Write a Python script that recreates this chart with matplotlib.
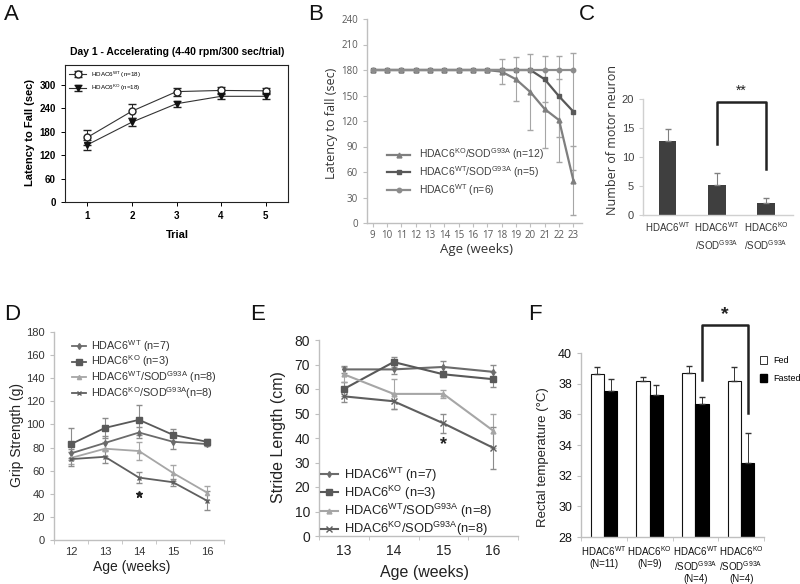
import matplotlib
matplotlib.use('Agg')
import matplotlib.pyplot as plt
from matplotlib.patches import Patch

# ---- data ----
# A: rotarod, day 1
trials = [1, 2, 3, 4, 5]
a_wt = [165, 232, 282, 285, 284]
a_wt_err = [20, 18, 10, 8, 8]
a_ko = [146, 204, 251, 270, 270]
a_ko_err = [12, 10, 8, 8, 8]

# B: latency to fall vs age
b_weeks = [9, 10, 11, 12, 13, 14, 15, 16, 17, 18, 19, 20, 21, 22, 23]
b_kosod = [180, 180, 180, 180, 180, 180, 180, 180, 180, 178, 169, 154, 134, 121, 50]
b_kosod_err = [0, 0, 0, 0, 0, 0, 0, 0, 0, 15, 26, 45, 46, 49, 41]
b_wtsod = [180, 180, 180, 180, 180, 180, 180, 180, 180, 180, 180, 180, 169, 149, 131]
b_wtsod_err = [0, 0, 0, 0, 0, 0, 0, 0, 0, 0, 0, 0, 27, 48, 69]
b_wt = [180, 180, 180, 180, 180, 180, 180, 180, 180, 180, 180, 180, 180, 180, 180]
b_wt_err = [0, 0, 0, 0, 0, 0, 0, 0, 0, 0, 0, 0, 0, 0, 0]

# C: motor neuron counts
c_labels = ['$\\mathrm{HDAC6}^{\\mathrm{WT}}$',
            '$\\mathrm{HDAC6}^{\\mathrm{WT}}$\n$\\mathrm{/SOD}^{\\mathrm{G93A}}$',
            '$\\mathrm{HDAC6}^{\\mathrm{KO}}$\n$\\mathrm{/SOD}^{\\mathrm{G93A}}$']
c_vals = [12.7, 5.1, 2.1]
c_err = [2.1, 2.1, 0.9]

# D: grip strength
d_weeks = [12, 13, 14, 15, 16]
d_wt = [75, 84, 93, 85, 83]
d_wt_err = [4, 6, 5, 6, 2]
d_ko = [83, 97, 104, 91, 85]
d_ko_err = [14, 9, 13, 5, 2]
d_wtsod = [71, 79, 77, 58, 41]
d_wtsod_err = [5, 6, 8, 7, 6]
d_kosod = [70, 72, 54, 50, 34]
d_kosod_err = [6, 5, 4.5, 3, 8]

# E: stride length
e_weeks = [13, 14, 15, 16]
e_wt = [68, 68, 69, 67]
e_wt_err = [1.5, 2, 2.5, 3]
e_ko = [60, 71, 66, 64]
e_ko_err = [3, 2, 1, 3]
e_wtsod = [66, 58, 58, 43]
e_wtsod_err = [3, 6, 1.5, 7]
e_kosod = [57, 55, 46, 36]
e_kosod_err = [2.5, 3, 4, 8.5]

# F: rectal temperature
f_labels = ['$\\mathrm{HDAC6}^{\\mathrm{WT}}$\n(N=11)',
            '$\\mathrm{HDAC6}^{\\mathrm{KO}}$\n(N=9)',
            '$\\mathrm{HDAC6}^{\\mathrm{WT}}$\n$\\mathrm{/SOD}^{\\mathrm{G93A}}$\n(N=4)',
            '$\\mathrm{HDAC6}^{\\mathrm{KO}}$\n$\\mathrm{/SOD}^{\\mathrm{G93A}}$\n(N=4)']
f_fed = [38.63, 38.2, 38.72, 38.15]
f_fed_err = [0.45, 0.23, 0.4, 0.93]
f_fasted = [37.5, 37.25, 36.7, 32.83]
f_fasted_err = [0.8, 0.65, 0.4, 1.95]

plt.rcParams['font.family'] = ['Liberation Sans', 'DejaVu Sans']
plt.rcParams['mathtext.fontset'] = 'custom'
plt.rcParams['mathtext.rm'] = 'Liberation Sans'
plt.rcParams['mathtext.it'] = 'Liberation Sans:italic'
plt.rcParams['mathtext.bf'] = 'Liberation Sans:bold'

W, H = 800, 584
fig = plt.figure(figsize=(8, 5.84), dpi=100)


def px_axes(l, t, r, b):
    return fig.add_axes([l / W, 1 - b / H, (r - l) / W, (b - t) / H])


def px_text(x, y, s, **kw):
    fig.text(x / W, 1 - y / H, s, **kw)


def sup(a, b=None):
    s = 'HDAC6$^{\\mathrm{%s}}$' % a
    if b:
        s += '/SOD$^{\\mathrm{%s}}$' % b
    return s


def excel_axes(ax, col='#bfbfbf'):
    for s in ['top', 'right']:
        ax.spines[s].set_visible(False)
    for s in ['left', 'bottom']:
        ax.spines[s].set_color(col)
        ax.spines[s].set_linewidth(1.0)
    ax.tick_params(which='both', color=col, direction='out', length=3)


def series(ax, x, y, err, color, marker, ms, lw, ecolor, label, cap=2):
    ax.plot(x, y, color=color, marker=marker, ms=ms, lw=lw, mec=color, mfc=color, label=label, zorder=3)
    xs = [xi for xi, e in zip(x, err) if e > 0]
    ys = [yi for yi, e in zip(y, err) if e > 0]
    es = [e for e in err if e > 0]
    if xs:
        ax.errorbar(xs, ys, yerr=es, fmt='none', ecolor=ecolor, elinewidth=0.8, capsize=cap, zorder=2)


# ---------------- A ----------------
axA = px_axes(65, 65, 288, 202)
axA.errorbar(trials, a_wt, yerr=a_wt_err, color='#333333', lw=0.8, marker='o', ms=5,
             mfc='white', mec='#222222', capsize=3, elinewidth=0.7, ecolor='#222222',
             label=sup('WT') + ' (n=18)', zorder=3)
axA.errorbar(trials, a_ko, yerr=a_ko_err, color='#333333', lw=0.8, marker='v', ms=5,
             mfc='#111111', mec='#111111', capsize=3, elinewidth=0.7, ecolor='#222222',
             label=sup('KO') + ' (n=18)', zorder=3)
axA.set_xlim(0.5, 5.5)
axA.set_ylim(0, 350)
axA.set_xticks(trials)
axA.set_yticks([0, 60, 120, 180, 240, 300])
for s in axA.spines.values():
    s.set_linewidth(0.8)
    s.set_color('#222222')
axA.tick_params(direction='out', length=3, width=0.7, labelsize=7)
for t in axA.get_xticklabels() + axA.get_yticklabels():
    t.set_fontweight('bold')
axA.legend(loc='upper left', bbox_to_anchor=(0.0, 1.0), fontsize=4.5, frameon=False,
           handlelength=2.6, borderaxespad=0.3, labelspacing=0.5)
px_text(177, 52, 'Day 1 - Accelerating (4-40 rpm/300 sec/trial)', ha='center', va='center',
        fontsize=7.5, fontweight='bold')
px_text(30, 133, 'Latency to Fall (sec)', rotation=90, ha='center', va='center',
        fontsize=8, fontweight='bold')
px_text(177, 235, 'Trial', ha='center', va='center', fontsize=8, fontweight='bold')

# ---------------- B ----------------
axB = px_axes(367, 19, 582, 223)
excel_axes(axB)
series(axB, b_weeks, b_kosod, b_kosod_err, '#7f7f7f', '^', 3.5, 1.6, '#a6a6a6',
       sup('KO', 'G93A') + ' (n=12)')
series(axB, b_weeks, b_wtsod, b_wtsod_err, '#595959', 's', 3.5, 1.6, '#a6a6a6',
       sup('WT', 'G93A') + ' (n=5)')
series(axB, b_weeks, b_wt, b_wt_err, '#8c8c8c', 'o', 3.2, 1.6, '#a6a6a6',
       sup('WT') + ' (n=6)')
axB.set_xlim(8.6, 23.6)
axB.set_ylim(0, 240)
axB.set_xticks(b_weeks)
axB.set_yticks(range(0, 241, 30))
axB.tick_params(labelsize=7, labelcolor='#595959')
axB.tick_params(axis='x', pad=2)
for t in axB.get_xticklabels() + axB.get_yticklabels():
    t.set_fontfamily('Open Sans')
hB, lB = axB.get_legend_handles_labels()
axB.legend(hB, lB, loc='upper left', bbox_to_anchor=(378 / W, 1 - 137 / H),
           bbox_transform=fig.transFigure, fontsize=7.5, frameon=False,
           handlelength=2.2, labelspacing=0.2, labelcolor='#404040')
px_text(331, 123, 'Latency to fall (sec)', rotation=90, ha='center', va='center',
        fontsize=9, family='Open Sans', color='#333333')
px_text(477, 249, 'Age (weeks)', ha='center', va='center', fontsize=9.5,
        family='Open Sans', color='#333333')

# ---------------- C ----------------
axC = px_axes(643, 99, 793, 215)
excel_axes(axC, '#d0d0d0')
xc = [0, 1, 2]
axC.bar(xc, c_vals, width=0.36, color='#3f3f3f', zorder=2)
axC.errorbar(xc, c_vals, yerr=[[0, 0, 0], c_err], fmt='none', ecolor='#808080',
             elinewidth=0.8, capsize=2)
axC.set_xlim(-0.5, 2.55)
axC.set_ylim(0, 20)
axC.set_yticks([0, 5, 10, 15, 20])
axC.set_xticks(xc)
axC.set_xticklabels(c_labels, fontsize=7, color='#333333', linespacing=1.3)
axC.tick_params(axis='x', length=0, pad=4)
axC.tick_params(axis='y', labelsize=8, labelcolor='#404040')
axC.plot([1, 1, 2, 2], [12.2, 19.4, 19.4, 8], color='#222222', lw=1.8, clip_on=False)
axC.text(1.5, 20.2, '**', ha='center', va='bottom', fontsize=10, color='#222222')
px_text(612, 140, 'Number of motor neuron', rotation=90, ha='center', va='center',
        fontsize=9, family='Open Sans', color='#333333')

# ---------------- D ----------------
axD = px_axes(54, 332, 224, 540)
excel_axes(axD)
series(axD, d_weeks, d_wt, d_wt_err, '#6b6b6b', 'd', 3, 1.3, '#8c8c8c', sup('WT') + ' (n=7)')
series(axD, d_weeks, d_ko, d_ko_err, '#595959', 's', 4, 1.3, '#8c8c8c', sup('KO') + ' (n=3)')
series(axD, d_weeks, d_wtsod, d_wtsod_err, '#a6a6a6', '^', 3, 1.3, '#a6a6a6',
       sup('WT', 'G93A') + ' (n=8)')
series(axD, d_weeks, d_kosod, d_kosod_err, '#5f5f5f', 'x', 3.5, 1.3, '#8c8c8c',
       sup('KO', 'G93A') + '(n=8)')
axD.plot([14], [40], marker='*', ms=5, color='#222222', ls='none')
axD.set_xlim(11.5, 16.5)
axD.set_ylim(0, 180)
axD.set_yticks(range(0, 181, 20))
axD.set_xticks(d_weeks)
axD.set_xticks([11.5, 12.5, 13.5, 14.5, 15.5, 16.5], minor=True)
axD.tick_params(axis='x', which='major', length=0, pad=5)
axD.tick_params(labelsize=8, labelcolor='#333333')
axD.legend(loc='upper left', bbox_to_anchor=(62 / W, 1 - 328 / H),
           bbox_transform=fig.transFigure, fontsize=7.8, frameon=False,
           handlelength=1.3, handletextpad=0.5, labelspacing=0.0, labelcolor='#333333')
px_text(17, 435, 'Grip Strength (g)', rotation=90, ha='center', va='center',
        fontsize=10, color='#222222')
px_text(132, 567, 'Age (weeks)', ha='center', va='center', fontsize=10, color='#222222')

# ---------------- E ----------------
axE = px_axes(319, 340, 518, 536)
excel_axes(axE)
series(axE, e_weeks, e_wt, e_wt_err, '#6b6b6b', 'd', 3, 1.5, '#8c8c8c', sup('WT') + ' (n=7)')
series(axE, e_weeks, e_ko, e_ko_err, '#595959', 's', 4.5, 1.5, '#8c8c8c', sup('KO') + ' (n=3)')
series(axE, e_weeks, e_wtsod, e_wtsod_err, '#a6a6a6', '^', 3.5, 1.5, '#a6a6a6',
       sup('WT', 'G93A') + ' (n=8)')
series(axE, e_weeks, e_kosod, e_kosod_err, '#5f5f5f', 'x', 4, 1.5, '#8c8c8c',
       sup('KO', 'G93A') + '(n=8)')
axE.text(15, 37.5, '*', ha='center', va='center', fontsize=13, fontweight='bold', color='#222222')
axE.set_xlim(12.5, 16.5)
axE.set_ylim(0, 80)
axE.set_yticks(range(0, 81, 10))
axE.set_xticks(e_weeks)
axE.set_xticks([12.5, 13.5, 14.5, 15.5, 16.5], minor=True)
axE.tick_params(axis='x', which='major', length=0, pad=6)
axE.tick_params(labelsize=10, labelcolor='#222222')
axE.legend(loc='lower left', bbox_to_anchor=(313 / W, 1 - 546 / H),
           bbox_transform=fig.transFigure, fontsize=9.3, frameon=False, borderpad=0.1,
           handlelength=1.3, handletextpad=0.5, labelspacing=0.0, labelcolor='#222222')
px_text(278, 437, 'Stride Length (cm)', rotation=90, ha='center', va='center',
        fontsize=11.5, color='#222222')
px_text(425, 573, 'Age (weeks)', ha='center', va='center', fontsize=11.5, color='#222222')

# ---------------- F ----------------
axF = px_axes(581, 353, 764, 537)
excel_axes(axF)
xf = [0, 1, 2, 3]
bw = 0.29
xfed = [x - bw / 2 for x in xf]
xfast = [x + bw / 2 for x in xf]
axF.bar(xfed, f_fed, width=bw, bottom=0, color='white', edgecolor='#111111', lw=0.8, zorder=2)
axF.bar(xfast, f_fasted, width=bw, bottom=0, color='#000000', edgecolor='#000000', lw=0.8, zorder=2)
axF.errorbar(xfed, f_fed, yerr=[[0, 0, 0, 0], f_fed_err], fmt='none', ecolor='#333333',
             elinewidth=0.7, capsize=2)
axF.errorbar(xfast, f_fasted, yerr=[[0, 0, 0, 0], f_fasted_err], fmt='none', ecolor='#333333',
             elinewidth=0.7, capsize=2)
axF.set_xlim(-0.5, 3.5)
axF.set_ylim(28, 40)
axF.set_yticks(range(28, 41, 2))
axF.set_xticks(xf)
axF.set_xticklabels(f_labels, fontsize=7, color='#111111', linespacing=1.1)
axF.set_xticks([-0.5, 0.5, 1.5, 2.5, 3.5], minor=True)
axF.tick_params(axis='x', which='major', length=0, pad=5)
axF.tick_params(axis='y', labelsize=9, labelcolor='#111111')
axF.plot([xfast[2], xfast[2], xfast[3], xfast[3]], [38.25, 41.85, 41.85, 36.1],
         color='#222222', lw=1.8, clip_on=False)
axF.text((xfast[2] + xfast[3]) / 2, 42.5, '*', ha='center', va='center', fontsize=14,
         fontweight='bold', color='#222222')
fh = [Patch(facecolor='white', edgecolor='#333333', lw=0.7, label='Fed'),
      Patch(facecolor='black', edgecolor='black', label='Fasted')]
axF.legend(handles=fh, loc='upper left', bbox_to_anchor=(752 / W, 1 - 348 / H),
           bbox_transform=fig.transFigure, fontsize=6.5, frameon=False,
           handlelength=0.8, handleheight=0.9, handletextpad=0.6, labelspacing=1.0)
px_text(543, 457, 'Rectal temperature (°C)', rotation=90, ha='center', va='center',
        fontsize=9.5, color='#222222')

# panel letters
for lab, x, y in [('A', 11, 15), ('B', 316, 14), ('C', 587, 15),
                  ('D', 12, 314), ('E', 258, 314), ('F', 535, 314)]:
    px_text(x, y, lab, ha='center', va='center', fontsize=16, color='#111111')

fig.savefig('out.png', dpi=100)
